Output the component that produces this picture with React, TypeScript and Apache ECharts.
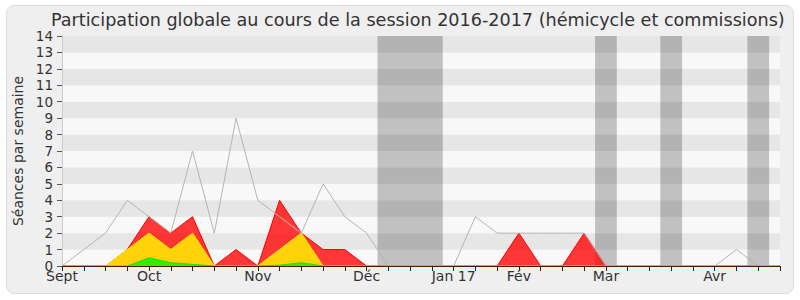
import React, { useEffect, useRef } from 'react';
import * as echarts from 'echarts';

const TITLE = 'Participation globale au cours de la session 2016-2017 (hémicycle et commissions)';
const Y_NAME = 'Séances par semaine';

// week index of each month label
const MONTH_WEEKS = [0, 4, 9, 14, 18, 21, 25, 30];
const MONTH_LABELS = ['Sept', 'Oct', 'Nov', 'Déc', 'Jan 17', 'Fév', 'Mar', 'Avr'];

// weekly values, weeks 0..33
const TOTAL = [0, 1, 2, 4, 3, 2, 7, 2, 9, 4, 3, 2, 5, 3, 2, 0, 0, 0, 0, 3, 2, 2, 2, 2, 2, 0, 0, 0, 0, 0, 0, 1, 0, 0];
const RED = [0, 0, 0, 1, 3, 2, 3, 0, 1, 0, 4, 2, 1, 1, 0, 0, 0, 0, 0, 0, 0, 2, 0, 0, 2, 0, 0, 0, 0, 0, 0, 0, 0, 0];
const YELLOW = [0, 0, 0, 1, 2, 1, 2, 0, 0, 0, 1, 2, 0, 0, 0, 0, 0, 0, 0, 0, 0, 0, 0, 0, 0, 0, 0, 0, 0, 0, 0, 0, 0, 0];
const GREEN = [0, 0, 0, 0, 0.5, 0.2, 0.1, 0, 0, 0, 0.05, 0.2, 0, 0, 0, 0, 0, 0, 0, 0, 0, 0, 0, 0, 0, 0, 0, 0, 0, 0, 0, 0, 0, 0];

// vacation periods (in weeks)
const VACATIONS: [number, number][] = [[14.5, 17.5], [24.5, 25.5], [27.5, 28.5], [31.5, 32.5]];

const FONT = 'DejaVu Sans';

export default function App() {
  const ref = useRef<HTMLDivElement>(null);
  useEffect(() => {
    const chart = echarts.init(ref.current!, null, { renderer: 'svg' });
    const toPts = (arr: number[]) => arr.map((v, i) => [i, v]);
    chart.setOption({
      animation: false,
      backgroundColor: '#ffffff',
      textStyle: { fontFamily: FONT },
      graphic: [
        {
          type: 'rect',
          shape: { x: 6.5, y: 5.5, width: 787, height: 288, r: 8 },
          style: { fill: '#efefef', stroke: '#dcdcdc', lineWidth: 1 },
          z: -10,
          silent: true,
        },
      ],
      title: {
        text: TITLE,
        left: 46,
        top: 6,
        textStyle: { fontFamily: FONT, fontSize: 17.6, fontWeight: 'normal', color: '#333' },
      },
      grid: { left: 62, right: 20, top: 36, bottom: 34 },
      xAxis: [
        {
          type: 'value',
          min: 0,
          max: 33,
          interval: 1,
          position: 'bottom',
          z: 10,
          axisLine: { show: true, onZero: false, lineStyle: { color: '#4a1a08' } },
          axisTick: { show: true, length: 5, lineStyle: { color: '#222' } },
          axisLabel: {
            fontFamily: FONT,
            fontSize: 14,
            color: '#333',
            margin: 3,
            showMinLabel: true,
            showMaxLabel: true,
            formatter: (v: number) => {
              const idx = MONTH_WEEKS.indexOf(Math.round(v));
              return idx >= 0 ? MONTH_LABELS[idx] : '';
            },
          },
          splitLine: { show: false },
        },
        {
          type: 'value',
          min: 0,
          max: 33,
          interval: 1,
          position: 'top',
          axisLine: { show: false },
          axisTick: { show: true, inside: true, length: 3, lineStyle: { color: '#333' } },
          axisLabel: { show: false },
          splitLine: { show: false },
        },
      ],
      yAxis: [
        {
          type: 'value',
          min: 0,
          max: 14,
          interval: 1,
          name: Y_NAME,
          nameLocation: 'middle',
          nameGap: 36,
          nameTextStyle: { fontFamily: FONT, fontSize: 14, color: '#333' },
          axisLine: { show: true, lineStyle: { color: '#999' } },
          axisTick: { show: true, length: 5, lineStyle: { color: '#555' } },
          axisLabel: { fontFamily: FONT, fontSize: 13.5, color: '#333', margin: 9 },
          splitLine: { show: false },
          splitArea: { show: true, areaStyle: { color: ['#f8f8f8', '#e6e6e6'] } },
        },
        {
          type: 'value',
          min: 0,
          max: 14,
          interval: 1,
          position: 'right',
          axisLine: { show: true, lineStyle: { color: '#cccccc' } },
          axisTick: { show: false },
          axisLabel: { show: false },
          splitLine: { show: false },
        },
      ],
      series: [
        {
          type: 'line',
          data: toPts(RED),
          symbol: 'none',
          z: 2,
          lineStyle: { color: '#ff0000', width: 1 },
          areaStyle: { color: 'rgba(255,0,0,0.78)', opacity: 1 },
        },
        {
          type: 'line',
          data: toPts(YELLOW),
          symbol: 'none',
          z: 3,
          lineStyle: { color: '#ffee00', width: 1 },
          areaStyle: { color: '#ffd20a', opacity: 1 },
        },
        {
          type: 'line',
          data: toPts(GREEN),
          symbol: 'none',
          z: 4,
          lineStyle: { color: '#22dd00', width: 1 },
          areaStyle: { color: '#33ee00', opacity: 1 },
        },
        {
          type: 'line',
          data: toPts(TOTAL),
          symbol: 'none',
          z: 5,
          lineStyle: { color: '#b4b4b4', width: 1 },
        },
        {
          type: 'line',
          data: [[0, 0]],
          symbol: 'none',
          z: 6,
          lineStyle: { opacity: 0 },
          markArea: {
            silent: true,
            itemStyle: { color: 'rgba(0,0,0,0.22)' },
            data: VACATIONS.map(([a, b]) => [{ xAxis: a }, { xAxis: b }]),
          },
        },
      ],
    });
    return () => chart.dispose();
  }, []);
  return <div ref={ref} style={{ position: 'absolute', left: 0, top: 0, width: 800, height: 300 }} />;
}
